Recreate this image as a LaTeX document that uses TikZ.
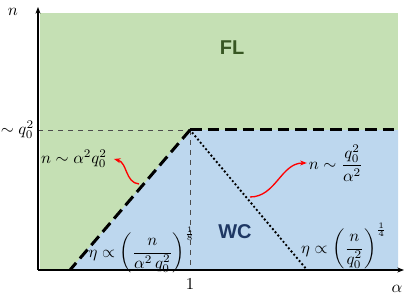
\documentclass[tikz,border=0pt]{standalone}
\usepackage{amsmath}
\usepackage{fontspec}
\setsansfont{Liberation Sans}
\usepackage{xcolor}
\usetikzlibrary{positioning,arrows.meta}

\definecolor{flgreen}{HTML}{C5E0B4}
\definecolor{wcblue}{HTML}{BDD7EE}
\definecolor{fltext}{HTML}{385723}
\definecolor{wctext}{HTML}{1F3864}

\begin{document}
\begin{tikzpicture}[x=0.6pt, y=0.6pt,
    phase/.style={font=\sffamily\bfseries\large},
    border/.style={line width=1.8pt, dash pattern=on 7pt off 3.5pt},
    dotline/.style={line width=1.6pt, line cap=round, dash pattern=on 0pt off 2.5pt},
    guide/.style={thin, dashed, black!70},
    redarrow/.style={red, thick, -{Stealth[length=4pt]}}]
    \useasboundingbox (0,0) rectangle (415,302);

    % Key points
    \coordinate (O) at (38,32);
    \coordinate (V) at (190,172);
    \coordinate (A) at (70,32);
    \coordinate (B) at (307,32);
    \coordinate (R) at (398,172);
    \coordinate (Q) at (38,172);
    \coordinate (U) at (190,32);

    % Phases
    \fill[flgreen] (40,32) rectangle (398,289);
    \fill[wcblue] (A) -- (V) -- (R) -- (398,32) -- cycle;

    % Guides
    \draw[guide] (Q) -- (V);
    \draw[guide] (V) -- (U);

    % Boundaries
    \draw[border] (V) -- (R);
    \draw[border] (V) -- (A);
    \draw[dotline] (V) -- (B);

    % Axes
    \draw[line width=1pt, -{Stealth[length=4pt]}] (O) -- (38,295);
    \draw[line width=1pt, -{Stealth[length=4pt]}] (O) -- (404,32);
    \node (ylab) at (13,290) {$n$};
    \node (xlab) at (397,13) {$\alpha$};
    \node[left, inner sep=1pt] (qlab) at (36,172) {$\sim q_0^2$};
    \node (one) at (190,18) {$1$};

    % Phase names
    \node[phase, text=fltext] (fl) at (232,254) {FL};
    \node[phase, text=wctext] (wc) at (235,70) {WC};

    % Crossover lines
    \node[inner sep=1pt] (lowlab) at (74,143) {$n \sim \alpha^2 q_0^2$};
    \node[inner sep=1pt] (highlab) at (336,139) {$n \sim \dfrac{q_0^2}{\alpha^2}$};
    \coordinate (lowfoot) at (139,118);
    \coordinate (highfoot) at (250,105);
    \draw[redarrow] (lowfoot) to[out=175, in=-15] ([xshift=3pt]lowlab.east);
    \draw[redarrow] (highfoot) to[out=0, in=180] (highlab.west);

    % Scaling laws
    \node (etaone) at (142,52) {$\eta \propto \left(\dfrac{n}{\alpha^2\, q_0^2}\right)^{\frac{1}{8}}$};
    \node (etatwo) at (344,56) {$\eta \propto \left(\dfrac{n}{q_0^2}\right)^{\frac{1}{4}}$};
\end{tikzpicture}
\end{document}
